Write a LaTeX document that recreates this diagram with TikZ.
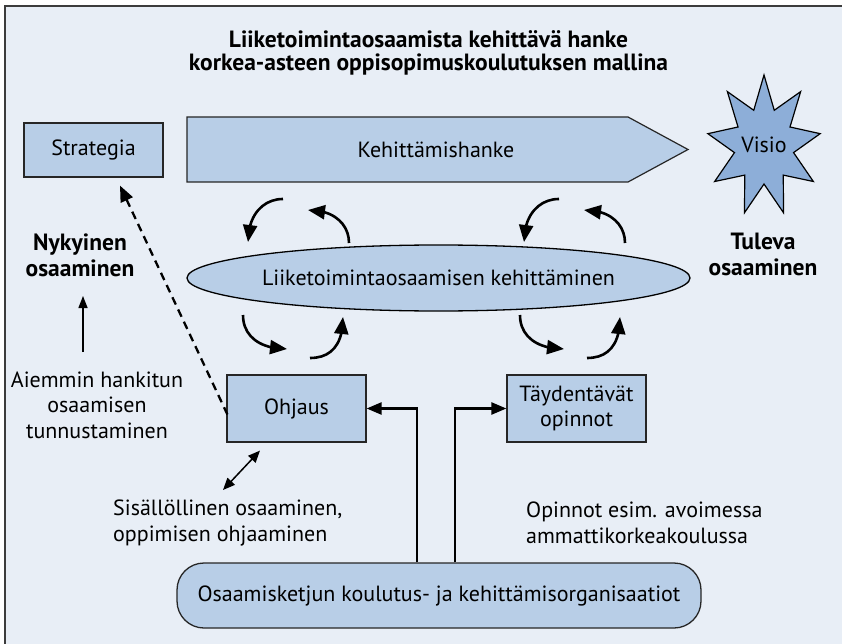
\documentclass[tikz,border=0pt]{standalone}
\usepackage{fontspec}
\setmainfont{PT Sans}
\usetikzlibrary{arrows.meta,bending,shapes.geometric}

\definecolor{panel}{RGB}{232,238,246}
\definecolor{boxfill}{RGB}{184,206,231}
\definecolor{starfill}{RGB}{141,174,216}
\definecolor{frameline}{RGB}{60,60,60}

\tikzset{
  box/.style={draw=black!85, line width=1.2pt, fill=boxfill, inner sep=0pt,
              font=\fontsize{22}{25}\selectfont, align=center},
  txt/.style={inner sep=0pt, font=\fontsize{22}{25.5}\selectfont},
  headtxt/.style={inner sep=0pt, align=center, font=\bfseries\fontsize{23.5}{26}\selectfont},
  cyc/.style={line width=2.6pt, -{Triangle[length=17pt,width=14pt]}},
  feed/.style={line width=2.4pt, -{Triangle[length=15pt,width=12pt]}},
  fineline/.style={line width=1.4pt, -{Triangle[length=12pt,width=9pt]}},
  loopup/.pic={
    \draw[cyc] (35,0) .. controls (15,0) and (0,16) .. (0,43);
    \draw[cyc] (101,44) .. controls (101,26) and (87,11) .. (60,11);
  },
  loopdown/.pic={
    \draw[cyc] (0,0) .. controls (0,22) and (18,34) .. (44,34);
    \draw[cyc] (67,43) .. controls (88,43) and (100,30) .. (100,2);
  },
}

\begin{document}
\begin{tikzpicture}[x=1pt,y=-1pt]
  \useasboundingbox (0,0) rectangle (842,644);
  % panel and its frame
  \fill[white] (0,0) rectangle (842,644);
  \fill[panel] (5,6) rectangle (842,644);
  \draw[frameline, line width=1.6pt] (5,644) -- (5,6) -- (842,6);

  % title
  \node[headtxt, font=\bfseries\fontsize{23.5}{23}\selectfont] (title) at (428.5,53)
    {Liiketoimintaosaamista kehittävä hanke\\korkea-asteen oppisopimuskoulutuksen mallina};

  % top row
  \node[box, minimum width=139pt, minimum height=54pt] (strategia) at (93.5,150) {Strategia};
  \draw[draw=black!85, line width=1.2pt, fill=boxfill]
    (187,117) -- (628,117) -- (688,149.5) -- (628,182) -- (187,182) -- cycle;
  \node[txt] (hanke) at (436,150) {Kehittämishanke};

  % vision star
  \draw[draw=black, line width=1.2pt, fill=starfill, shift={(764,146)}]
    (270:57 and 71)
    \foreach \k [evaluate=\k as \a using 270+40*\k,
                 evaluate=\k as \b using 250+40*\k] in {1,...,8}
      { -- (\b:30 and 38) -- (\a:57 and 71) }
    -- (250:30 and 38) -- cycle;
  \node[txt] (visio) at (764,145) {Visio};

  % side headings
  \node[headtxt] (nyk) at (80,255) {Nykyinen\\osaaminen};
  \node[headtxt] (tul) at (763,254) {Tuleva\\osaaminen};

  % central ellipse
  \node[ellipse, draw=black, line width=1.3pt, fill=boxfill, minimum width=503pt,
        minimum height=66pt, inner sep=0pt, font=\fontsize{22}{25}\selectfont]
    (liike) at (438.5,278) {Liiketoimintaosaamisen kehittäminen};

  % development cycles
  \pic at (248,199) {loopup};
  \pic at (524,199) {loopup};
  \pic at (243,315) {loopdown};
  \pic at (520,315) {loopdown};

  % lower boxes
  \node[box, minimum width=139pt, minimum height=67pt] (ohjaus) at (296.5,408.5) {Ohjaus};
  \node[box, minimum width=139pt, minimum height=67pt] (tayd) at (576.5,408.5)
    {Täydentävät\\opinnot};

  % recognition of prior learning
  \node[txt, align=center] (aiem) at (97,405)
    {Aiemmin hankitun\\osaamisen\\tunnustaminen};
  \coordinate (upfoot) at (83,352);
  \coordinate (uphead) at (83,296);
  \draw[fineline] (upfoot) -- (uphead);

  % guidance feeds back to strategy
  \draw[line width=2.3pt, dashed, dash pattern=on 8pt off 5.5pt,
        -{Triangle[length=16pt,width=13pt]}]
    ([xshift=1pt,yshift=-6pt]ohjaus.west) -- ([xshift=26.5pt,yshift=-8pt]strategia.south);

  % bottom organisations
  \node[draw=black!85, line width=1.3pt, fill=boxfill, rounded corners=27pt,
        minimum width=524pt, minimum height=65pt, inner sep=0pt,
        font=\fontsize{22}{25}\selectfont]
    (org) at (439,595.5) {Osaamisketjun koulutus- ja kehittämisorganisaatiot};
  \draw[feed] ([xshift=-22pt]org.north) |- (ohjaus.east);
  \draw[feed] ([xshift=16pt]org.north) |- (tayd.west);

  % captions
  \node[txt, align=left, anchor=west] (sis) at (113,523)
    {Sisällöllinen osaaminen,\\oppimisen ohjaaminen};
  \node[txt, align=left, anchor=west] (opin) at (526,523)
    {Opinnot esim. avoimessa\\ammattikorkeakoulussa};
  \coordinate (sisend) at (223,490);
  \draw[line width=1.5pt, {Triangle[length=12pt,width=10pt]}-{Triangle[length=12pt,width=10pt]}]
    (sisend) -- ([xshift=-36.5pt,yshift=-8pt]ohjaus.south);
\end{tikzpicture}
\end{document}
